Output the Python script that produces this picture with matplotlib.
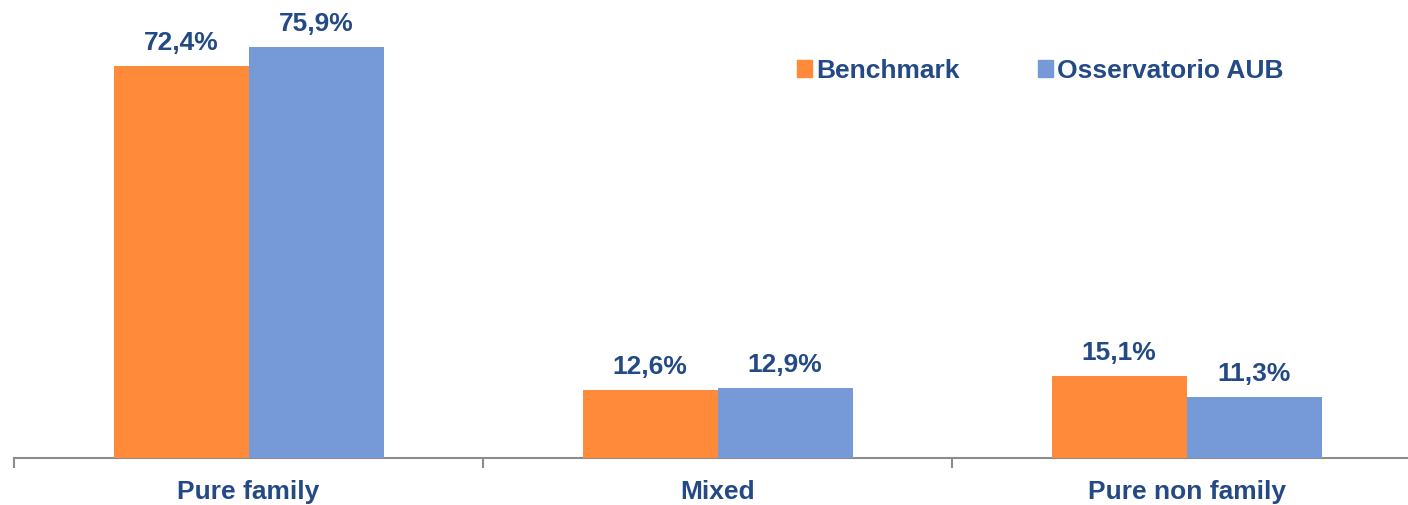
import matplotlib
matplotlib.use("Agg")
import matplotlib.pyplot as plt
import numpy as np
from matplotlib.patches import Patch

categories = ["Pure family", "Mixed", "Pure non family"]
benchmark = [72.4, 12.6, 15.1]
aub = [75.9, 12.9, 11.3]
series_names = ["Benchmark", "Osservatorio AUB"]

plt.rcParams['font.family'] = ['Liberation Sans', 'DejaVu Sans']
text_color = "#244A86"
c_orange = "#FF8A3A"
c_blue = "#7699D7"

W, H = 1408, 505
fig = plt.figure(figsize=(W/100, H/100), dpi=100)
left = 14 / W
bottom = (H - 458) / H
ax = fig.add_axes([left, bottom, 1 - left, 1 - bottom])
cat_px = 469
ax.set_xlim(-0.5, -0.5 + (W - 14) / cat_px)
ax.set_ylim(0, 458 / 5.414)

x = np.arange(len(categories))
bw = 135 / cat_px
b1 = ax.bar(x - bw/2, benchmark, bw, color=c_orange, zorder=3)
b2 = ax.bar(x + bw/2, aub, bw, color=c_blue, zorder=3)

for bars, vals in ((b1, benchmark), (b2, aub)):
    for r, v in zip(bars, vals):
        ax.annotate(f"{v:.1f}%".replace(".", ","), (r.get_x() + r.get_width()/2, v),
                    xytext=(0, 8), textcoords="offset points", ha="center", va="bottom",
                    fontsize=19, fontweight="bold", color=text_color)

for s in ["top", "right", "left"]:
    ax.spines[s].set_visible(False)
ax.spines["bottom"].set_color("#8C8C8C")
ax.spines["bottom"].set_linewidth(1.5)
ax.set_yticks([])
ax.set_xticks([-0.5, 0.5, 1.5], minor=False)
ax.set_xticklabels([])
ax.tick_params(axis="x", which="major", length=7, width=1.5, color="#8C8C8C", direction="out")
ax.set_xticks(x, minor=True)
ax.set_xticklabels(categories, minor=True, fontsize=19, fontweight="bold", color=text_color)
ax.tick_params(axis="x", which="minor", length=0, pad=16)

handles = [Patch(color=c_orange), Patch(color=c_blue)]
leg = fig.legend(handles, series_names, loc="center left",
                 bbox_to_anchor=(797 / W, 1 - 71 / H), ncol=2, frameon=False,
                 handlelength=0.58, handleheight=0.58, handletextpad=0.15,
                 columnspacing=2.95, borderaxespad=0, borderpad=0,
                 prop={"size": 19, "weight": "bold"})
for t in leg.get_texts():
    t.set_color(text_color)

fig.savefig("out.png", dpi=100)
